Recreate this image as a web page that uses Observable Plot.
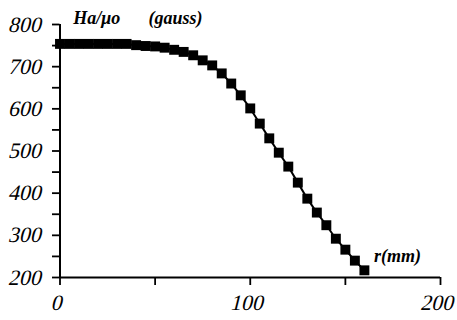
<!DOCTYPE html>
<html>
<head>
<meta charset="utf-8">
<script src="https://cdn.jsdelivr.net/npm/d3@7"></script>
<script src="https://cdn.jsdelivr.net/npm/@observablehq/plot@0.6"></script>
<style>
  body { margin: 0; background: #fff; }
</style>
</head>
<body>
<div id="chart"></div>
<script>
const r = [0, 5, 10, 15, 20, 25, 30, 35, 40, 45, 50, 55, 60, 65, 70, 75, 80, 85, 90, 95, 100, 105, 110, 115, 120, 125, 130, 135, 140, 145, 150, 155, 160];
const H = [754, 754, 754, 754, 754, 754, 754, 754, 751, 749, 748, 745, 740, 735, 727, 715, 703, 684, 660, 632, 601, 565, 530, 496, 463, 425, 387, 354, 324, 292, 266, 240, 217];
const yTicks = [200, 300, 400, 500, 600, 700, 800];
const yMinor = [250, 350, 450, 550, 650, 750];
const xTicks = [0, 50, 100, 150, 200];
const xLabels = [0, 100, 200];

const data = r.map((v, i) => ({r: v, H: H[i]}));
const serif = "'Liberation Serif', 'Times New Roman', 'DejaVu Serif', serif";

const chart = Plot.plot({
  width: 457,
  height: 320,
  marginLeft: 59.5,
  marginRight: 17,
  marginTop: 24,
  marginBottom: 43,
  style: {fontFamily: serif, fontSize: "22px", color: "#000", background: "#fff"},
  x: {domain: [0, 200]},
  y: {domain: [200, 800]},
  marks: [
    Plot.axisY({ticks: yTicks, tickSize: 7.5, tickPadding: 10, strokeWidth: 1.8, fontSize: 22, label: null, className: "ticklab"}),
    Plot.axisY({ticks: yMinor, tickSize: 7.5, text: null, strokeWidth: 1.8, label: null}),
    Plot.axisX({ticks: xTicks, tickSize: 8, text: null, strokeWidth: 1.8, label: null}),
    Plot.axisX({ticks: xLabels, tickSize: 0, tickPadding: 17, fontSize: 22, label: null, className: "ticklab"}),
    Plot.ruleX([0], {y1: 200, y2: 800, strokeWidth: 2}),
    Plot.ruleY([200], {x1: 0, x2: 200, strokeWidth: 2}),
    Plot.line(data, {x: "r", y: "H", stroke: "#000", strokeWidth: 2}),
    Plot.dot(data, {x: "r", y: "H", symbol: "square", r: 5.6, fill: "#000", stroke: "none"}),
    Plot.text(["Ha/μo"], {x: 7, y: 800, dy: -1, text: d => d, textAnchor: "start", lineAnchor: "bottom", fontWeight: "bold", fontStyle: "italic", fontSize: 18}),
    Plot.text(["(gauss)"], {x: 46.5, y: 800, dy: -1, text: d => d, textAnchor: "start", lineAnchor: "bottom", fontWeight: "bold", fontStyle: "italic", fontSize: 18}),
    Plot.text(["r(mm)"], {x: 165, y: 236, text: d => d, textAnchor: "start", lineAnchor: "bottom", fontWeight: "bold", fontStyle: "italic", fontSize: 18, letterSpacing: "2.4px"})
  ]
});
d3.select(chart).selectAll("text").style("font-family", serif).style("fill", "#000");
// tick labels: slanted like the reference's italic digits
d3.select(chart).selectAll(".ticklab text").each(function() {
  const t = this.getAttribute("transform") || "";
  this.setAttribute("transform", t + " skewX(-14)");
  this.style.fontStyle = "normal";
});
document.getElementById("chart").appendChild(chart);
</script>
</body>
</html>
